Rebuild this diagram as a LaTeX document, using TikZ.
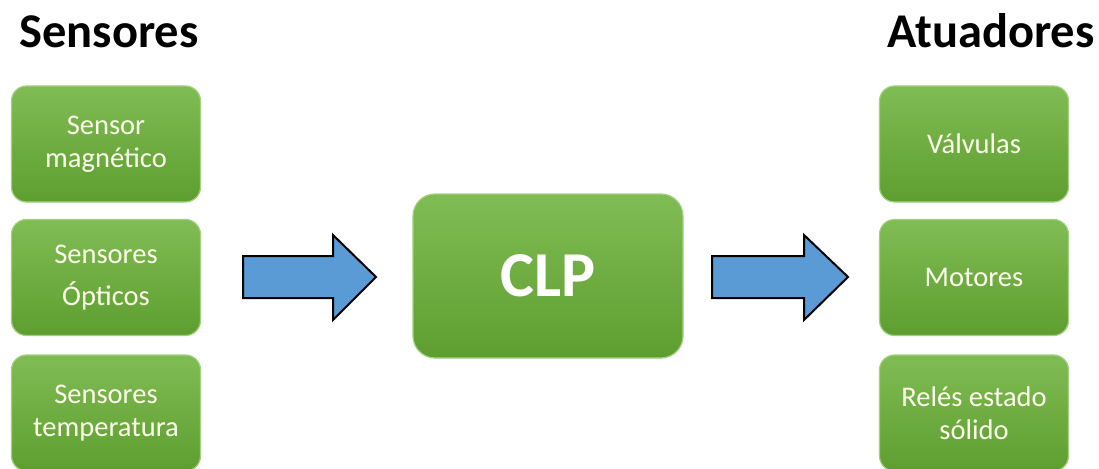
\documentclass[tikz,border=0pt]{standalone}
\usepackage{fontspec}
\setmainfont{Carlito}
\definecolor{boxtop}{RGB}{128,188,84}
\definecolor{boxbot}{RGB}{94,158,48}
\definecolor{boxedge}{RGB}{160,210,125}
\definecolor{arrowblue}{RGB}{91,155,213}
\definecolor{labeltext}{RGB}{255,255,238}
\begin{document}
\begin{tikzpicture}[x=1pt,y=-1pt,
  greenbox/.style={draw=boxedge, line width=1.2pt, rounded corners=15pt,
    top color=boxtop, bottom color=boxbot, minimum width=189pt,
    minimum height=116pt, align=center, text=labeltext,
    font=\fontsize{28.5}{33}\selectfont},
  mainbox/.style={greenbox, rounded corners=22pt, minimum width=270pt,
    minimum height=164pt, text=white, font=\fontsize{64}{70}\selectfont\bfseries},
  title/.style={anchor=base, font=\fontsize{48.5}{52}\selectfont\bfseries},
  blockarrow/.style={draw=black, line width=2pt, fill=arrowblue, line join=miter}]
\useasboundingbox (0,0) rectangle (1099,468);

% headings
\node[title] (tsens) at (109,48) {Sensores};
\node[title] (tatua) at (991,48) {Atuadores};

% sensor column
\node[greenbox] (s1) at (106,144) {Sensor\\magnético};
\node[greenbox] (s2) at (106,277.5) {Sensores\\[9pt]Ópticos};
\node[greenbox] (s3) at (106,413) {Sensores\\temperatura};

% controller
\node[mainbox] (clp) at (548,276) {CLP};

% actuator column
\node[greenbox] (a1) at (974,144) {Válvulas};
\node[greenbox] (a2) at (974,277.5) {Motores};
\node[greenbox] (a3) at (974,413) {Relés estado\\sólido};

% block arrows between the columns
\draw[blockarrow] (243,256) -- (333,256) -- (333,235) -- (376,277)
  -- (333,320) -- (333,298) -- (243,298) -- cycle;
\draw[blockarrow] (712,256) -- (804,256) -- (804,235) -- (848,277)
  -- (804,320) -- (804,298) -- (712,298) -- cycle;
\end{tikzpicture}
\end{document}
